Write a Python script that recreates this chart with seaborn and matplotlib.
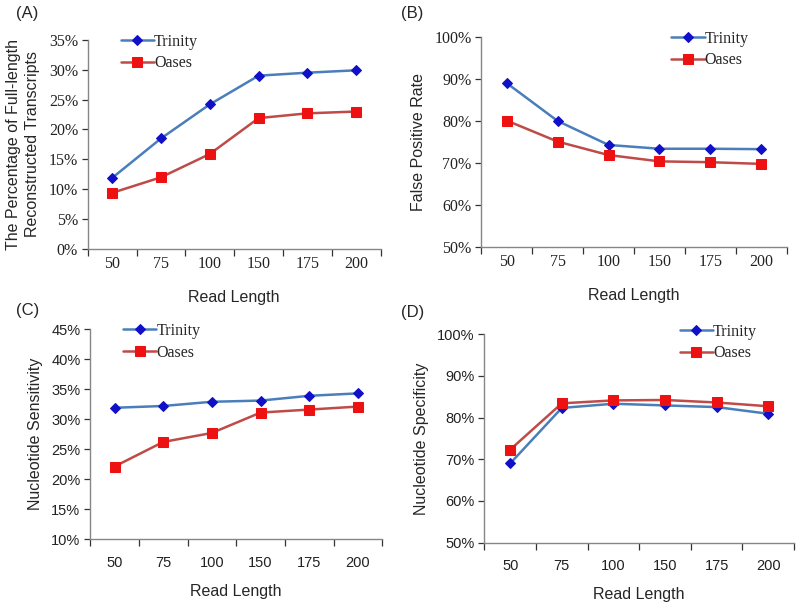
import numpy as np
import pandas as pd
import matplotlib
matplotlib.use("Agg")
import matplotlib.pyplot as plt
import seaborn as sns
from matplotlib.ticker import FuncFormatter, FixedLocator

# read lengths shown as categories on every panel
read_lengths = ["50", "75", "100", "150", "175", "200"]

# (A) percentage of full-length reconstructed transcripts
full_trinity = [11.9, 18.5, 24.2, 29.0, 29.5, 29.9]
full_oases = [9.4, 12.0, 15.9, 21.9, 22.7, 23.0]

# (B) false positive rate
fpr_trinity = [89.0, 80.0, 74.3, 73.4, 73.4, 73.3]
fpr_oases = [80.1, 75.1, 71.9, 70.4, 70.2, 69.8]

# (C) nucleotide sensitivity
sens_trinity = [31.9, 32.2, 32.9, 33.1, 33.9, 34.3]
sens_oases = [22.1, 26.2, 27.7, 31.1, 31.6, 32.1]

# (D) nucleotide specificity
spec_trinity = [69.0, 82.3, 83.3, 82.9, 82.5, 80.9]
spec_oases = [72.3, 83.4, 84.1, 84.2, 83.6, 82.7]

sns.set_style("ticks")
plt.rcParams["font.family"] = ["Liberation Sans", "DejaVu Sans"]

SERIF = ["Liberation Serif", "DejaVu Serif"]
SANS = ["Liberation Sans", "DejaVu Sans"]

TRI_LINE, TRI_MARK = "#4a7ebb", "#1010c8"
OAS_LINE, OAS_MARK = "#be4b48", "#ee1111"
SPINE = "#868686"

fig = plt.figure(figsize=(7.98, 6.03), dpi=100)

panels = [
    # tag, rect, trinity, oases, ylim, ystep, ylabel, tick font, legend anchor, tag pos
    ("(A)", [0.110, 0.587, 0.367, 0.347], full_trinity, full_oases, (0, 35), 5,
     "The Percentage of Full-length\nReconstructed Transcripts", SERIF, (0.09, 1.06), (0.02, 0.978)),
    ("(B)", [0.603, 0.590, 0.383, 0.349], fpr_trinity, fpr_oases, (50, 100), 10,
     "False Positive Rate", SERIF, (0.60, 1.06), (0.502, 0.978)),
    ("(C)", [0.113, 0.106, 0.366, 0.348], sens_trinity, sens_oases, (10, 45), 5,
     "Nucleotide Sensitivity", SANS, (0.09, 1.06), (0.02, 0.485)),
    ("(D)", [0.607, 0.100, 0.388, 0.346], spec_trinity, spec_oases, (50, 100), 10,
     "Nucleotide Specificity", SANS, (0.61, 1.08), (0.502, 0.482)),
]

pos = np.arange(len(read_lengths))

for tag, rect, tri, oas, ylim, ystep, ylabel, tfont, anchor, tagpos in panels:
    ax = fig.add_axes(rect)
    df = pd.DataFrame({"pos": pos, "Trinity": tri, "Oases": oas})
    sns.lineplot(data=df, x="pos", y="Trinity", ax=ax, color=TRI_LINE, lw=1.8,
                 marker="D", markersize=5, markerfacecolor=TRI_MARK,
                 markeredgecolor=TRI_MARK, label="Trinity")
    sns.lineplot(data=df, x="pos", y="Oases", ax=ax, color=OAS_LINE, lw=1.8,
                 marker="s", markersize=7, markerfacecolor=OAS_MARK,
                 markeredgecolor=OAS_MARK, label="Oases")

    ax.set_xlim(-0.5, len(read_lengths) - 0.5)
    ax.set_ylim(*ylim)
    ax.set_yticks(np.arange(ylim[0], ylim[1] + 0.1, ystep))
    ax.yaxis.set_major_formatter(FuncFormatter(lambda v, p: f"{v:.0f}%"))

    serif = tfont is SERIF
    # category labels between boundary ticks
    ax.xaxis.set_major_locator(FixedLocator(np.arange(-0.5, len(read_lengths), 1.0)))
    ax.xaxis.set_minor_locator(FixedLocator(pos))
    ax.set_xticklabels([])
    ax.set_xticklabels(read_lengths, minor=True)
    ax.tick_params(axis="x", which="major", length=5, width=0.9, color="#333333", direction="out")
    ax.tick_params(axis="x", which="minor", length=0, pad=5 if serif else 12)
    ax.tick_params(axis="y", length=4, width=0.9, color="#333333", direction="out", pad=3)

    for lab in ax.get_xticklabels(minor=True) + ax.get_yticklabels():
        lab.set_family(tfont)
        lab.set_fontsize(11.5 if serif else 10.5)
        lab.set_color("#222222")

    sns.despine(ax=ax)
    for s in ("left", "bottom"):
        ax.spines[s].set_color(SPINE)
        ax.spines[s].set_linewidth(1.0)

    ax.set_xlabel("Read Length", fontsize=11.5, labelpad=13 if serif else 10)
    ax.set_ylabel(ylabel, fontsize=11.5, labelpad=6, linespacing=1.35)

    leg = ax.legend(loc="upper left", bbox_to_anchor=anchor, frameon=False,
                    prop={"family": SERIF, "size": 11.5}, handlelength=2.1,
                    handletextpad=0.0, labelspacing=0.35, borderaxespad=0)

    fig.text(tagpos[0], tagpos[1], tag, fontsize=12, ha="left", va="center")

fig.savefig("out.png", dpi=100)
